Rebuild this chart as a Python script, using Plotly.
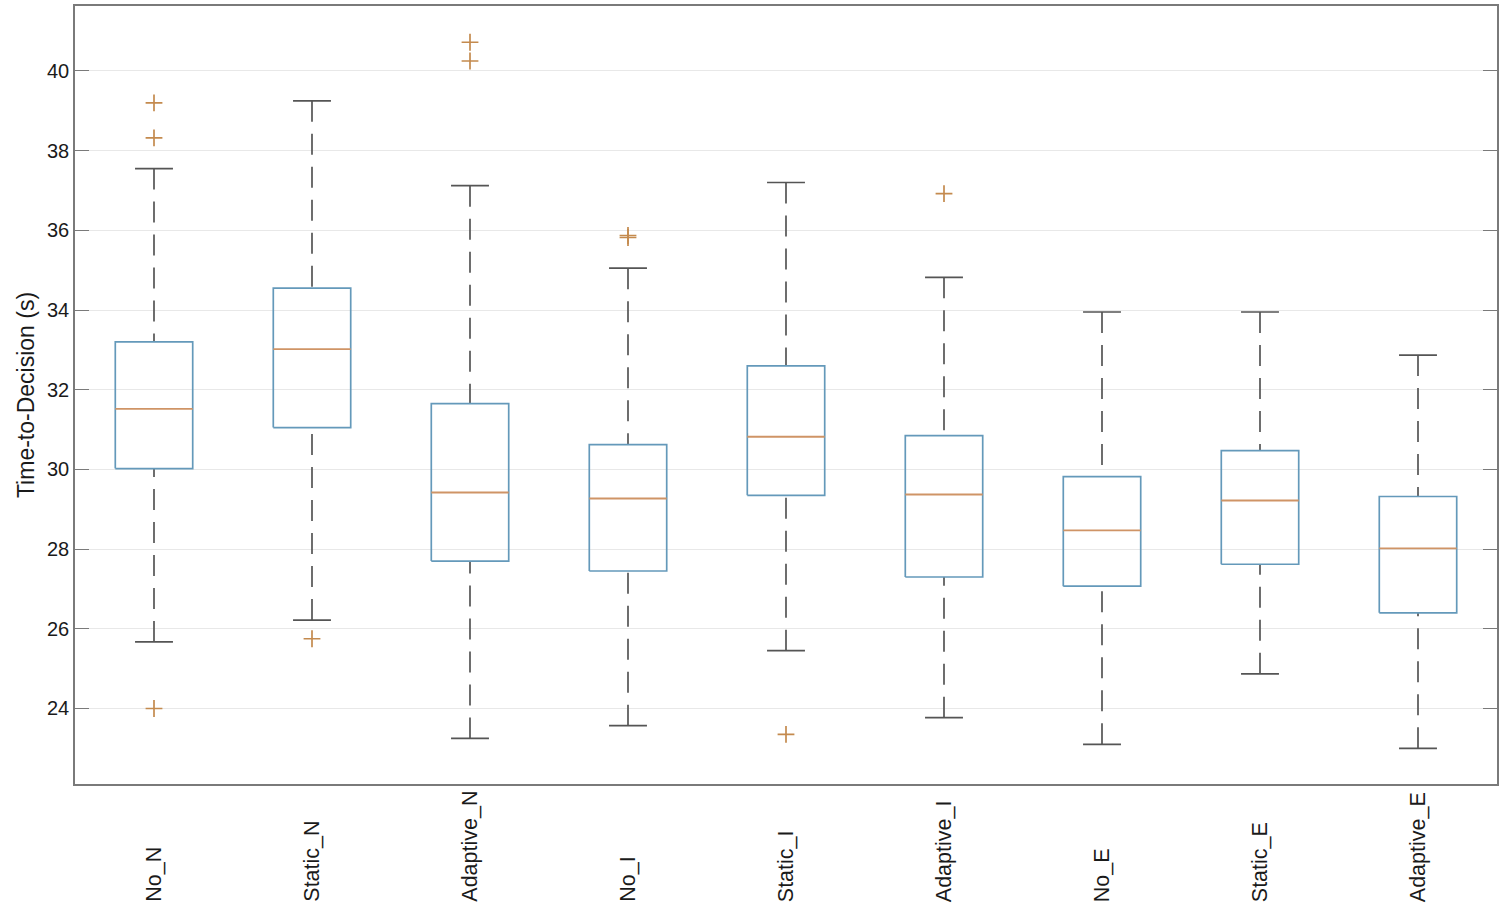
import plotly.graph_objects as go

categories = ["No_N", "Static_N", "Adaptive_N", "No_I", "Static_I", "Adaptive_I", "No_E", "Static_E", "Adaptive_E"]
q1 = [30.02, 31.05, 27.70, 27.45, 29.35, 27.30, 27.07, 27.62, 26.40]
median = [31.52, 33.02, 29.42, 29.27, 30.82, 29.37, 28.47, 29.22, 28.02]
q3 = [33.20, 34.55, 31.65, 30.62, 32.60, 30.85, 29.82, 30.47, 29.32]
lower_whisker = [25.67, 26.22, 23.25, 23.57, 25.45, 23.77, 23.10, 24.87, 23.00]
upper_whisker = [37.55, 39.25, 37.12, 35.05, 37.20, 34.82, 33.95, 33.95, 32.87]
outliers = [[39.20, 38.32, 24.00], [25.75], [40.72, 40.25], [35.87, 35.82], [23.35], [36.92], [], [], []]
y_ticks = [24, 26, 28, 30, 32, 34, 36, 38, 40]

BOX_HALF = 0.245
CAP_HALF = 0.12
BOX_COLOR = "#6499ba"
MED_COLOR = "#cf9466"
WHISK_COLOR = "#555555"
OUT_COLOR = "#c48a4e"
FONT = "Liberation Sans, Arial, Helvetica, sans-serif"

bx, by, mx, my, wx, wy, cx, cy, ox, oy = [], [], [], [], [], [], [], [], [], []
for i in range(len(categories)):
    l, r = i - BOX_HALF, i + BOX_HALF
    bx += [l, r, r, l, l, None]
    by += [q1[i], q1[i], q3[i], q3[i], q1[i], None]
    mx += [l, r, None]
    my += [median[i], median[i], None]
    wx += [i, i, None, i, i, None]
    wy += [upper_whisker[i], q3[i], None, lower_whisker[i], q1[i], None]
    cx += [i - CAP_HALF, i + CAP_HALF, None, i - CAP_HALF, i + CAP_HALF, None]
    cy += [upper_whisker[i], upper_whisker[i], None, lower_whisker[i], lower_whisker[i], None]
    for v in outliers[i]:
        ox.append(i)
        oy.append(v)

fig = go.Figure()
fig.add_trace(go.Scatter(x=wx, y=wy, mode="lines", line=dict(color=WHISK_COLOR, width=1.7, dash="21px,12px"), hoverinfo="skip"))
fig.add_trace(go.Scatter(x=cx, y=cy, mode="lines", line=dict(color=WHISK_COLOR, width=1.7), hoverinfo="skip"))
fig.add_trace(go.Scatter(x=bx, y=by, mode="lines", line=dict(color=BOX_COLOR, width=1.7), hoverinfo="skip"))
fig.add_trace(go.Scatter(x=mx, y=my, mode="lines", line=dict(color=MED_COLOR, width=1.8), hoverinfo="skip"))
fig.add_trace(go.Scatter(x=ox, y=oy, mode="markers",
                         marker=dict(symbol="cross-thin", size=12, line=dict(color=OUT_COLOR, width=1.7)),
                         hoverinfo="skip"))

for i, c in enumerate(categories):
    fig.add_annotation(x=i, xref="x", y=-0.1545, yref="paper", text=c, textangle=-90,
                       showarrow=False, xanchor="center", yanchor="bottom",
                       font=dict(family=FONT, size=21.5, color="#1a1a1a"))

fig.update_layout(
    width=1505, height=915,
    margin=dict(l=75, r=8, t=4, b=131),
    paper_bgcolor="white", plot_bgcolor="white",
    showlegend=False,
    font=dict(family=FONT, size=20, color="#1a1a1a"),
)
fig.update_xaxes(range=[-0.5, 8.5], showticklabels=False, showgrid=False, zeroline=False,
                 showline=True, linecolor="#7a7a7a", linewidth=1.6, mirror=True, ticks="")
fig.update_yaxes(range=[22.105, 41.63], tickvals=y_ticks, ticks="inside", ticklen=14, tickwidth=1.4,
                 tickcolor="#7a7a7a", showline=True, linecolor="#7a7a7a", linewidth=1.6, mirror="ticks",
                 showgrid=True, gridcolor="#e8e8e8", gridwidth=1.2, zeroline=False,
                 tickfont=dict(size=20, color="#1a1a1a"),
                 title=dict(text="Time-to-Decision (s)", font=dict(size=23, color="#1a1a1a"), standoff=6))

fig.write_html("out.html", config={"displayModeBar": False},
               post_script="document.body.style.margin='0';")
